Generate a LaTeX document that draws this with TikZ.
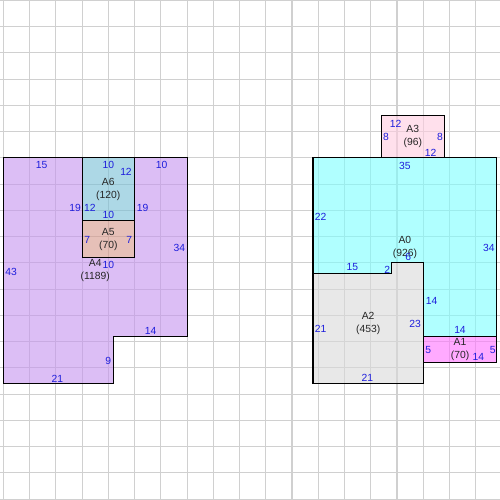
\documentclass[tikz,border=0pt]{standalone}
\usepackage{fontspec}
\setmainfont{Liberation Sans}
\definecolor{gridgray}{RGB}{208,208,208}
\definecolor{numblue}{RGB}{30,30,220}
\definecolor{fillA0}{RGB}{123,255,255}
\definecolor{fillA1}{RGB}{255,113,255}
\definecolor{fillA2}{RGB}{217,217,217}
\definecolor{fillA3}{RGB}{255,203,223}
\definecolor{fillA4}{RGB}{197,147,238}
\definecolor{fillA5}{RGB}{213,150,137}
\definecolor{fillA6}{RGB}{118,190,213}
\tikzset{
  room/.style={draw=black, line width=0.6pt, fill opacity=0.6},
  len/.style={text=numblue, inner sep=0pt, font=\fontsize{5.6}{6.8}\selectfont},
  tag/.style={text=black!85, inner sep=0pt, align=center, font=\fontsize{5.6}{7}\selectfont}
}
\begin{document}
\begin{tikzpicture}[x=0.1cm, y=-0.1cm]
	\useasboundingbox (-0.63,-0.06) rectangle (94.6,95.18);
	% grid
	\foreach \g in {0,5,...,90}
		\draw[gridgray, line width=0.6pt] (\g,-0.06) -- (\g,95.18);
	\foreach \g in {0,5,...,95}
		\draw[gridgray, line width=0.6pt] (-0.63,\g) -- (94.6,\g);
	% left group
	\draw[room, fill=fillA4] (0,30) -- (15,30) -- (15,49) -- (25,49) -- (25,30) -- (35,30)
		-- (35,64) -- (21,64) -- (21,73) -- (0,73) -- cycle;
	\draw[room, fill=fillA6] (15,30) rectangle (25,42);
	\draw[room, fill=fillA5] (15,42) rectangle (25,49);
	% right group
	\draw[room, fill=fillA3] (72,22) rectangle (84,30);
	\draw[room, fill=fillA0] (59,30) -- (94,30) -- (94,64) -- (80,64) -- (80,50) -- (74,50)
		-- (74,52) -- (59,52) -- cycle;
	\draw[room, fill=fillA2] (59,52) -- (74,52) -- (74,50) -- (80,50) -- (80,73) -- (59,73) -- cycle;
	\draw[room, fill=fillA1] (80,64) rectangle (94,69);
	% room names
	\node[tag] (A4) at (17.5,51.5) {A4\\(1189)};
	\node[tag] (A6) at (20,36) {A6\\(120)};
	\node[tag] (A5) at (20,45.5) {A5\\(70)};
	\node[tag] (A3) at (78,26) {A3\\(96)};
	\node[tag] (A0) at (76.5,47) {A0\\(926)};
	\node[tag] (A2) at (69.5,61.5) {A2\\(453)};
	\node[tag] (A1) at (87,66.5) {A1\\(70)};
	% lengths, left group
	\node[len] (a4top) at (7.31,31.37) {15};
	\node[len] (a6top) at (20,31.37) {10};
	\node[len] (a6right) at (23.37,32.7) {12};
	\node[len] (a4topr) at (30.17,31.37) {10};
	\node[len] (a4notchl) at (13.66,39.56) {19};
	\node[len] (a6left) at (16.5,39.56) {12};
	\node[len] (a4notchr) at (26.55,39.56) {19};
	\node[len] (a6bot) at (20,40.9) {10};
	\node[len] (a5left) at (16,45.66) {7};
	\node[len] (a5right) at (24,45.66) {7};
	\node[len] (a4notchb) at (20,50.4) {10};
	\node[len] (a4right) at (33.52,47.24) {34};
	\node[len] (a4left) at (1.47,51.7) {43};
	\node[len] (a4step) at (28.08,62.93) {14};
	\node[len] (a4rise) at (20,68.65) {9};
	\node[len] (a4bot) at (10.29,72.13) {21};
	% lengths, right group
	\node[len] (a3top) at (74.74,23.56) {12};
	\node[len] (a3left) at (72.9,26.1) {8};
	\node[len] (a3right) at (83.18,26.1) {8};
	\node[len] (a3bot) at (81.41,29.03) {12};
	\node[len] (a0top) at (76.51,31.5) {35};
	\node[len] (a0left) at (60.46,41.22) {22};
	\node[len] (a0right) at (92.51,47.24) {34};
	\node[len] (a0low) at (66.48,50.86) {15};
	\node[len] (a0jog) at (73.14,51.37) {2};
	\node[len] (a0ledge) at (77.14,48.95) {6};
	\node[len] (a0inner) at (81.6,57.22) {14};
	\node[len] (a0bot) at (86.99,62.8) {14};
	\node[len] (a2left) at (60.46,62.67) {21};
	\node[len] (a2right) at (78.42,61.66) {23};
	\node[len] (a2bot) at (69.33,71.89) {21};
	\node[len] (a1left) at (80.95,66.61) {5};
	\node[len] (a1right) at (93.22,66.61) {5};
	\node[len] (a1bot) at (90.48,68.0) {14};
\end{tikzpicture}
\end{document}
